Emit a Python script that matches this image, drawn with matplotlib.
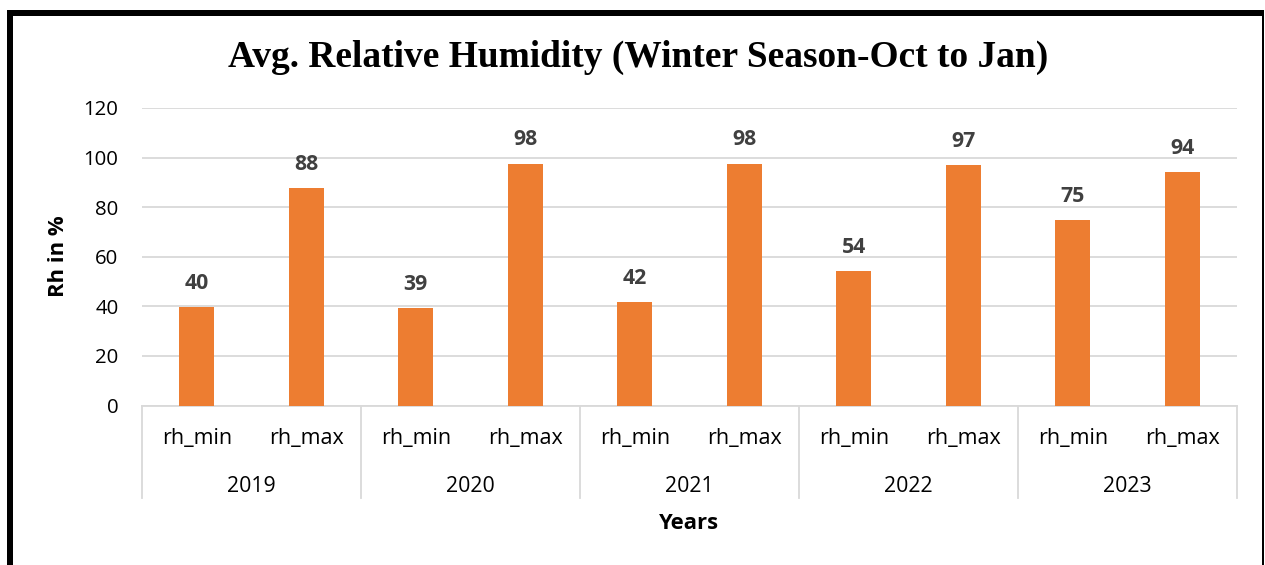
import matplotlib
matplotlib.use("Agg")
import matplotlib.pyplot as plt
from matplotlib.lines import Line2D

# Average relative humidity, winter season (Oct to Jan)
years = ["2019", "2020", "2021", "2022", "2023"]
measures = ["rh_min", "rh_max"]
rh_min = [39.7, 39.3, 41.9, 54.1, 74.9]
rh_max = [87.8, 97.6, 97.6, 97.0, 94.2]
y_ticks = [0, 20, 40, 60, 80, 100, 120]

W, H = 1265, 565
DPI = 100
BAR_COLOR = "#ED7D31"
GRID_COLOR = "#D9D9D9"
TEXT_COLOR = "#000000"
LABEL_COLOR = "#404040"
SANS = ["Open Sans", "DejaVu Sans"]
SERIF = ["Liberation Serif", "DejaVu Serif"]

plt.rcParams["font.family"] = SANS

fig = plt.figure(figsize=(W / DPI, H / DPI), dpi=DPI)


def fx(px):
    return px / W


def fy(py):
    return 1 - py / H


# plot area in pixel coordinates
left, right, top, bottom = 142, 1237, 108, 405.5
ax = fig.add_axes([fx(left), fy(bottom), fx(right - left), (bottom - top) / H])

values = []
for a, b in zip(rh_min, rh_max):
    values += [a, b]
xs = [i + 0.5 for i in range(len(values))]

bars = ax.bar(xs, values, width=0.32, color=BAR_COLOR, zorder=3)
for x, v in zip(xs, values):
    ax.annotate(f"{v:.0f}", xy=(x, v), xytext=(0, 13), textcoords="offset points",
                ha="center", va="baseline", fontsize=15.3, fontweight="bold",
                color=LABEL_COLOR, family=SANS)

ax.set_xlim(0, len(values))
ax.set_ylim(0, 120)
ax.set_yticks(y_ticks)
ax.set_yticklabels([str(t) for t in y_ticks], fontsize=14.7, color=TEXT_COLOR)
ax.tick_params(axis="y", length=0, pad=17)
ax.set_xticks([])
ax.yaxis.grid(True, color=GRID_COLOR, linewidth=1.3, zorder=0)
ax.set_axisbelow(True)
for s in ["top", "right", "left"]:
    ax.spines[s].set_visible(False)
ax.spines["bottom"].set_color(GRID_COLOR)
ax.spines["bottom"].set_linewidth(1.3)

# two-level category axis
ph = bottom - top
xt = ax.get_xaxis_transform()
for i, x in enumerate(xs):
    ax.text(x, -(444.3 - bottom) / ph, measures[i % 2], transform=xt,
            ha="center", va="baseline", fontsize=15.5, color=TEXT_COLOR)
for g, yr in enumerate(years):
    ax.text(2 * g + 1, -(491.7 - bottom) / ph, yr, transform=xt,
            ha="center", va="baseline", fontsize=15.3, color=TEXT_COLOR)
for g in range(len(years) + 1):
    ax.add_line(Line2D([2 * g, 2 * g], [0, -(498 - bottom) / ph], transform=xt,
                       color=GRID_COLOR, linewidth=1.3, clip_on=False))

# axis titles
fig.text(fx((left + right) / 2), fy(529), "Years", ha="center", va="baseline",
         fontsize=15.8, fontweight="bold", color=TEXT_COLOR)
fig.text(fx(58), fy(256), "Rh in %", ha="center", va="center", rotation=90,
         fontsize=15.8, fontweight="bold", color=TEXT_COLOR)

# chart title
fig.text(fx(638), fy(67), "Avg. Relative Humidity (Winter Season-Oct to Jan)",
         ha="center", va="baseline", fontsize=26.9, fontweight="bold",
         family=SERIF, color="black")

# frame around the chart
fig.add_artist(Line2D([fx(7), fx(1264)], [fy(12.5), fy(12.5)], color="black",
                      linewidth=6 * 72 / DPI, solid_capstyle="butt"))
fig.add_artist(Line2D([fx(10), fx(10)], [fy(10), fy(H + 5)], color="black",
                      linewidth=6 * 72 / DPI, solid_capstyle="butt"))
fig.add_artist(Line2D([fx(1263), fx(1263)], [fy(10), fy(H + 5)], color="black",
                      linewidth=2 * 72 / DPI, solid_capstyle="butt"))

fig.savefig("out.png", dpi=DPI, facecolor="white")
